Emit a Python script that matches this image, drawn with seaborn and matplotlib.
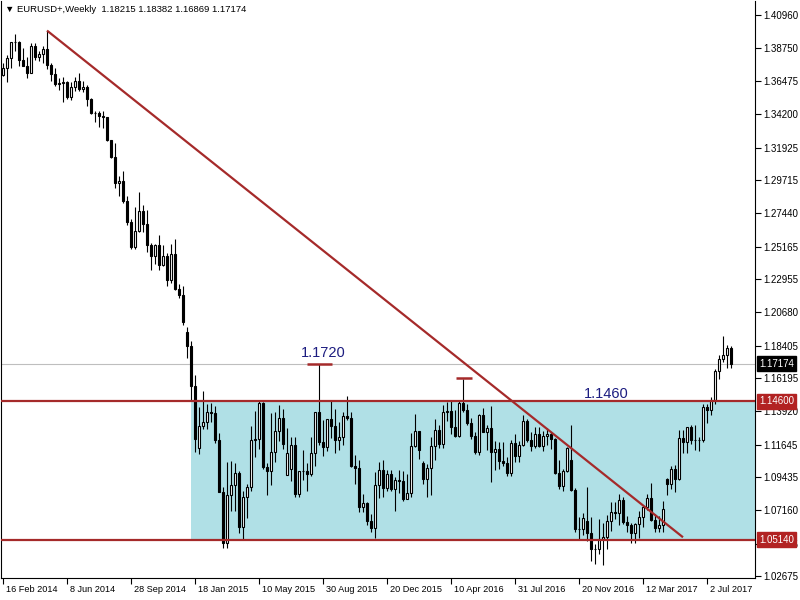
import matplotlib
matplotlib.use("Agg")
import matplotlib.pyplot as plt
import matplotlib.transforms as mtransforms
import numpy as np
import pandas as pd
import seaborn as sns

# ---------------- data (weekly EURUSD+ candles, first bar = week of 16 Feb 2014) ----------------
opens = [
    1.3692, 1.3740, 1.3803, 1.3913, 1.3913, 1.3790, 1.3750, 1.3704, 1.3888, 1.3813,
    1.3830, 1.3870, 1.3757, 1.3696, 1.3627, 1.3635, 1.3642, 1.3541, 1.3608, 1.3646,
    1.3597, 1.3605, 1.3523, 1.3429, 1.3427, 1.3411, 1.3402, 1.3243, 1.3131, 1.2950,
    1.2965, 1.2830, 1.2683, 1.2515, 1.2627, 1.2760, 1.2670, 1.2525, 1.2456, 1.2526,
    1.2390, 1.2452, 1.2288, 1.2464, 1.2227, 1.2188, 1.1935, 1.1841, 1.1568, 1.1140,
    1.1291, 1.1317, 1.1388, 1.1380, 1.1196, 1.0844, 1.0494, 1.0822, 1.0889, 1.0970,
    1.0603, 1.0808, 1.0873, 1.1199, 1.1200, 1.1450, 1.1015, 1.0987, 1.1112, 1.1260,
    1.1350, 1.0960, 1.1000, 1.1164, 1.0830, 1.0983, 1.0982, 1.0966, 1.1105, 1.1387,
    1.1184, 1.1150, 1.1337, 1.1294, 1.1193, 1.1214, 1.1360, 1.1347, 1.1016, 1.1005,
    1.0740, 1.0769, 1.0646, 1.0593, 1.0886, 1.0990, 1.0868, 1.0962, 1.0859, 1.0921,
    1.0916, 1.0796, 1.0831, 1.1155, 1.1255, 1.1040, 1.0933, 1.1004, 1.1153, 1.1268,
    1.1166, 1.1390, 1.1397, 1.1283, 1.1225, 1.1452, 1.1403, 1.1310, 1.1224, 1.1117,
    1.1367, 1.1254, 1.1276, 1.1115, 1.1138, 1.1055, 1.1037, 1.0974, 1.1174, 1.1086,
    1.1163, 1.1326, 1.1196, 1.1156, 1.1234, 1.1153, 1.1227, 1.1240, 1.1200, 1.0972,
    1.0883, 1.0986, 1.1060, 1.0852, 1.0589, 1.0587, 1.0640, 1.0558, 1.0451, 1.0452,
    1.0517, 1.0532, 1.0640, 1.0706, 1.0696, 1.0784, 1.0638, 1.0617, 1.0560, 1.0620,
    1.0671, 1.0739, 1.0797, 1.0652, 1.0594, 1.0613, 1.0930, 1.0896, 1.0997, 1.0932,
    1.1207, 1.1183, 1.1283, 1.1197, 1.1197, 1.1195, 1.1425, 1.1401, 1.1469, 1.1665,
    1.1749, 1.1774, 1.18215,
]
highs = [
    1.3773, 1.3825, 1.3915, 1.3967, 1.3925, 1.3876, 1.3810, 1.3906, 1.3905, 1.3856,
    1.3886, 1.3993, 1.3774, 1.3734, 1.3668, 1.3677, 1.3651, 1.3645, 1.3677, 1.3700,
    1.3649, 1.3620, 1.3530, 1.3444, 1.3445, 1.3445, 1.3405, 1.3245, 1.3222, 1.2999,
    1.3036, 1.2860, 1.2705, 1.2790, 1.2887, 1.2803, 1.2770, 1.2543, 1.2532, 1.2600,
    1.2530, 1.2475, 1.2532, 1.2570, 1.2260, 1.2247, 1.1970, 1.1871, 1.1640, 1.1423,
    1.1534, 1.1443, 1.1450, 1.1428, 1.1245, 1.0874, 1.1043, 1.1052, 1.1036, 1.0985,
    1.0849, 1.0894, 1.1290, 1.1392, 1.1467, 1.1456, 1.1040, 1.1380, 1.1385, 1.1436,
    1.1410, 1.1278, 1.1216, 1.1215, 1.0987, 1.1129, 1.1042, 1.1214, 1.1390, 1.1714,
    1.1332, 1.1340, 1.1460, 1.1408, 1.1318, 1.1387, 1.1495, 1.1385, 1.1095, 1.1060,
    1.0829, 1.0776, 1.0690, 1.0981, 1.1043, 1.1060, 1.0992, 1.0992, 1.0944, 1.0993,
    1.0985, 1.0965, 1.1245, 1.1376, 1.1260, 1.1050, 1.1030, 1.1218, 1.1342, 1.1300,
    1.1438, 1.1453, 1.1465, 1.1398, 1.1460, 1.1616, 1.1445, 1.1349, 1.1253, 1.1376,
    1.1416, 1.1300, 1.1428, 1.1188, 1.1186, 1.1185, 1.1078, 1.1198, 1.1234, 1.1188,
    1.1366, 1.1341, 1.1251, 1.1285, 1.1285, 1.1258, 1.1279, 1.1253, 1.1209, 1.1060,
    1.0996, 1.1146, 1.1300, 1.0870, 1.0670, 1.0700, 1.0874, 1.0670, 1.0486, 1.0654,
    1.0630, 1.0685, 1.0775, 1.0776, 1.0829, 1.0805, 1.0680, 1.0630, 1.0630, 1.0714,
    1.0748, 1.0829, 1.0906, 1.0690, 1.0678, 1.0777, 1.0940, 1.1020, 1.1023, 1.1268,
    1.1268, 1.1285, 1.1296, 1.1296, 1.1214, 1.1445, 1.1445, 1.1489, 1.1682, 1.1777,
    1.1910, 1.1846, 1.18382,
]
lows = [
    1.3685, 1.3642, 1.3735, 1.3855, 1.3750, 1.3749, 1.3672, 1.3700, 1.3790, 1.3783,
    1.3773, 1.3730, 1.3648, 1.3614, 1.3586, 1.3503, 1.3524, 1.3520, 1.3580, 1.3580,
    1.3575, 1.3476, 1.3420, 1.3367, 1.3333, 1.3330, 1.3242, 1.3120, 1.2918, 1.2860,
    1.2815, 1.2667, 1.2500, 1.2501, 1.2615, 1.2614, 1.2483, 1.2358, 1.2398, 1.2359,
    1.2385, 1.2247, 1.2268, 1.2218, 1.2165, 1.1985, 1.1754, 1.1460, 1.1114, 1.1098,
    1.1270, 1.1270, 1.1316, 1.1175, 1.0839, 1.0462, 1.0458, 1.0712, 1.0712, 1.0563,
    1.0520, 1.0662, 1.0846, 1.1080, 1.1133, 1.1000, 1.0819, 1.0888, 1.1049, 1.1189,
    1.1134, 1.0955, 1.0915, 1.0809, 1.0808, 1.0926, 1.0848, 1.0950, 1.1017, 1.1161,
    1.1087, 1.1124, 1.1210, 1.1105, 1.1125, 1.1160, 1.1330, 1.1010, 1.0896, 1.0707,
    1.0702, 1.0617, 1.0565, 1.0524, 1.0802, 1.0804, 1.0850, 1.0847, 1.0710, 1.0835,
    1.0778, 1.0790, 1.0808, 1.1150, 1.1067, 1.0893, 1.0810, 1.0822, 1.1057, 1.1144,
    1.1144, 1.1327, 1.1234, 1.1217, 1.1217, 1.1385, 1.1296, 1.1201, 1.1098, 1.1097,
    1.1253, 1.1131, 1.0912, 1.0990, 1.0998, 1.1020, 1.0952, 1.0951, 1.1045, 1.1046,
    1.1155, 1.1180, 1.1123, 1.1145, 1.1150, 1.1122, 1.1160, 1.1138, 1.0965, 1.0860,
    1.0850, 1.0980, 1.0850, 1.0569, 1.0518, 1.0549, 1.0505, 1.0367, 1.0352, 1.0420,
    1.0340, 1.0454, 1.0577, 1.0660, 1.0618, 1.0622, 1.0566, 1.0494, 1.0493, 1.0525,
    1.0600, 1.0716, 1.0645, 1.0570, 1.0570, 1.0570, 1.0820, 1.0860, 1.0839, 1.0920,
    1.1110, 1.1110, 1.1170, 1.1131, 1.1119, 1.1185, 1.1312, 1.1370, 1.1440, 1.1612,
    1.1730, 1.1688, 1.16869,
]
closes = [
    1.3740, 1.3803, 1.3913, 1.3913, 1.3790, 1.3750, 1.3704, 1.3888, 1.3813, 1.3830,
    1.3870, 1.3757, 1.3696, 1.3627, 1.3635, 1.3642, 1.3541, 1.3608, 1.3646, 1.3597,
    1.3605, 1.3523, 1.3429, 1.3427, 1.3411, 1.3402, 1.3243, 1.3131, 1.2950, 1.2965,
    1.2830, 1.2683, 1.2515, 1.2627, 1.2760, 1.2670, 1.2525, 1.2456, 1.2526, 1.2390,
    1.2452, 1.2288, 1.2464, 1.2227, 1.2188, 1.2000, 1.1841, 1.1568, 1.1204, 1.1291,
    1.1317, 1.1388, 1.1380, 1.1196, 1.0844, 1.0494, 1.0822, 1.0889, 1.0970, 1.0603,
    1.0808, 1.0873, 1.1199, 1.1200, 1.1450, 1.1015, 1.0987, 1.1112, 1.1260, 1.1350,
    1.1166, 1.1111, 1.1164, 1.0830, 1.0983, 1.0982, 1.0966, 1.1105, 1.1387, 1.1184,
    1.1150, 1.1337, 1.1294, 1.1193, 1.1214, 1.1360, 1.1347, 1.1016, 1.1005, 1.0740,
    1.0769, 1.0646, 1.0593, 1.0886, 1.0990, 1.0868, 1.0962, 1.0859, 1.0921, 1.0916,
    1.0796, 1.0831, 1.1155, 1.1255, 1.1130, 1.0933, 1.1004, 1.1153, 1.1268, 1.1166,
    1.1390, 1.1397, 1.1283, 1.1225, 1.1452, 1.1403, 1.1310, 1.1224, 1.1117, 1.1367,
    1.1254, 1.1276, 1.1115, 1.1138, 1.1055, 1.1037, 1.0974, 1.1174, 1.1086, 1.1163,
    1.1326, 1.1196, 1.1156, 1.1234, 1.1153, 1.1227, 1.1240, 1.1200, 1.0972, 1.0883,
    1.0986, 1.1141, 1.0852, 1.0589, 1.0587, 1.0662, 1.0558, 1.0451, 1.0452, 1.0517,
    1.0532, 1.0640, 1.0706, 1.0696, 1.0784, 1.0638, 1.0617, 1.0560, 1.0620, 1.0671,
    1.0739, 1.0797, 1.0652, 1.0594, 1.0613, 1.0727, 1.0896, 1.0997, 1.0932, 1.1207,
    1.1183, 1.1283, 1.1197, 1.1197, 1.1195, 1.1425, 1.1401, 1.1469, 1.1665, 1.1749,
    1.1774, 1.1822, 1.17174,
]

date_labels = ["16 Feb 2014", "8 Jun 2014", "28 Sep 2014", "18 Jan 2015", "10 May 2015",
               "30 Aug 2015", "20 Dec 2015", "10 Apr 2016", "31 Jul 2016", "20 Nov 2016",
               "12 Mar 2017", "2 Jul 2017"]
price_ticks = [1.40960, 1.38750, 1.36475, 1.34200, 1.31925, 1.29715, 1.27440, 1.25165,
               1.22955, 1.20680, 1.18405, 1.16195, 1.13920, 1.11645, 1.09435, 1.07160,
               1.04885, 1.02675]

resistance = 1.1460
support = 1.0514
current_price = 1.17174
peak_high_1 = 1.1714
peak_label_1 = "1.1720"
peak_high_2 = 1.1622
resistance_label = "1.1460"
trend_x = [11, 170]
trend_y = [1.3993, 1.0532]
header = "\u25BC EURUSD+,Weekly  1.18215 1.18382 1.16869 1.17174"

# ---------------- styling ----------------
sns.set_style("white")
plt.rcParams['font.family'] = ['Liberation Sans', 'DejaVu Sans']

RED = '#A52A2A'
TAG_RED = '#B22222'
BOX = '#B0E0E6'
NAVY = '#1C1C80'

df = pd.DataFrame({"open": opens, "high": highs, "low": lows, "close": closes})
df["idx"] = np.arange(len(df))
df["bull"] = df["close"] >= df["open"]
df["bottom"] = df[["open", "close"]].min(axis=1)
df["height"] = (df["close"] - df["open"]).abs()

fig = plt.figure(figsize=(8, 6), dpi=100)
ax = fig.add_axes([1 / 800, 22 / 600, 754 / 800, 577 / 600])

xmin, xmax = -0.5, 188.0
ax.set_xlim(xmin, xmax)
ax.set_ylim(1.02538, 1.41950)

# consolidation box (background)
ax.fill_between([47, xmax], support, resistance, color=BOX, lw=0, zorder=1)

# current price line
ax.axhline(current_price, color='#BEBEBE', lw=0.8, zorder=2)

# candles
ax.vlines(df["idx"], df["low"], df["high"], color='black', lw=0.8, zorder=3)
up = df[df["bull"]]
dn = df[~df["bull"]]
ax.bar(up["idx"], up["height"], bottom=up["bottom"], width=0.5, color='white',
       edgecolor='black', linewidth=0.8, zorder=4)
ax.bar(dn["idx"], dn["height"], bottom=dn["bottom"], width=0.5, color='black',
       edgecolor='black', linewidth=0.8, zorder=4)

# horizontal levels & trend line
ax.axhline(resistance, color=RED, lw=1.6, zorder=5)
ax.axhline(support, color=RED, lw=1.6, zorder=5)
ax.plot(trend_x, trend_y, color=RED, lw=1.6, zorder=5, solid_capstyle='butt')
ax.hlines(peak_high_1, 76.1, 82.2, color=RED, lw=1.8, zorder=5)
ax.hlines(peak_high_2, 113.2, 117.2, color=RED, lw=1.8, zorder=5)

ax.text(80, 1.1791, peak_label_1, color=NAVY, fontsize=10.5, ha='center', va='center', zorder=6)
ax.text(150.9, 1.1511, resistance_label, color=NAVY, fontsize=10.5, ha='center', va='center', zorder=6)

# axes / ticks
for s in ['left', 'right', 'bottom']:
    ax.spines[s].set_visible(True)
    ax.spines[s].set_color('black')
    ax.spines[s].set_linewidth(0.8)
ax.spines['top'].set_visible(False)

ax.yaxis.tick_right()
ax.set_yticks(price_ticks)
ax.set_yticklabels([f"{v:.5f}" for v in price_ticks])
ax.tick_params(axis='y', direction='out', length=4, width=0.8, labelsize=7, pad=2,
               colors='black', left=False, right=True)

xt = np.arange(0, 16 * len(date_labels), 16)
ax.set_xticks(xt)
ax.set_xticklabels(date_labels)
ax.tick_params(axis='x', direction='out', length=4, width=0.8, labelsize=6.6, pad=1,
               colors='black', bottom=True)
offset = mtransforms.ScaledTranslation(3 / 100, 0, fig.dpi_scale_trans)
for lab in ax.get_xticklabels():
    lab.set_horizontalalignment('left')
    lab.set_transform(lab.get_transform() + offset)

# price tags on the right axis
trans = mtransforms.blended_transform_factory(ax.transAxes, ax.transData)
for val, bg in [(current_price, 'black'), (resistance, TAG_RED), (support, TAG_RED)]:
    ax.text(1.0 + 4 / 754, val, f"{val:.5f}", transform=trans, color='white', fontsize=7,
            ha='left', va='center', clip_on=False, zorder=10,
            bbox=dict(boxstyle='square,pad=0.25', facecolor=bg, edgecolor=bg))

fig.text(5 / 800, 1 - 10 / 600, header, fontsize=6.8, ha='left', va='center', color='black')

fig.savefig("out.png", dpi=100, facecolor='white')
